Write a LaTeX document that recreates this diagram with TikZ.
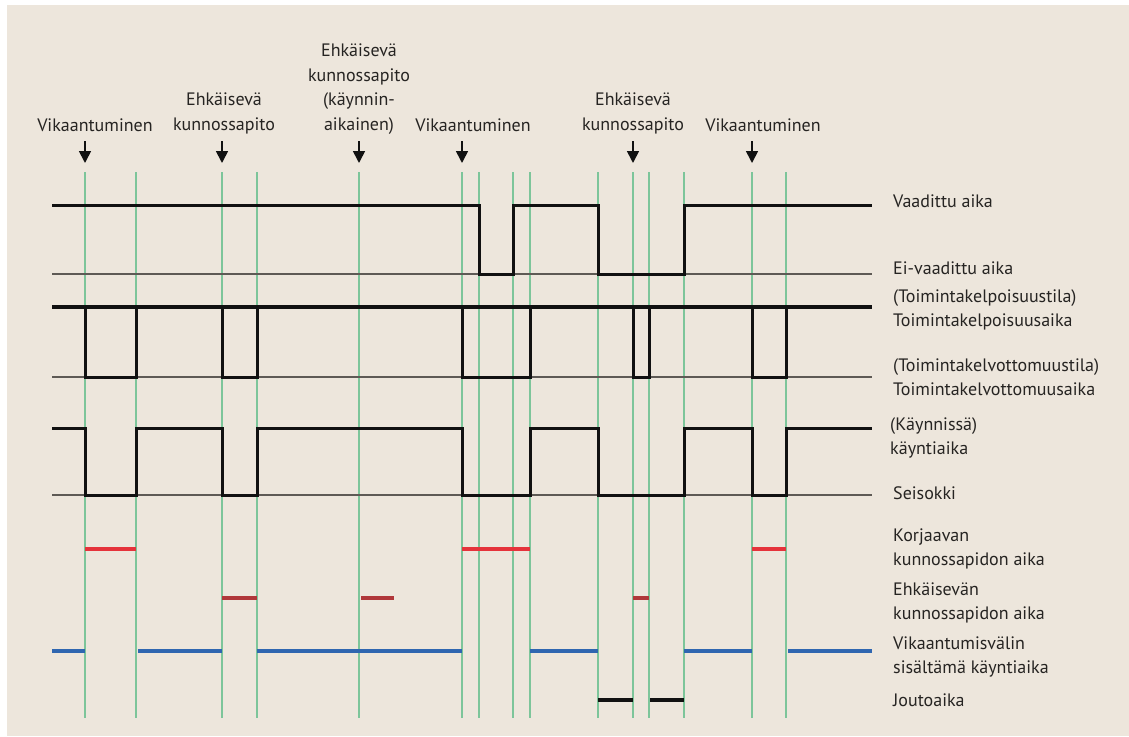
\documentclass[tikz,border=0pt]{standalone}
\usepackage{fontspec}
\setmainfont{PT Sans}
\usetikzlibrary{arrows.meta}
\definecolor{paper}{HTML}{EDE6DC}
\definecolor{gridgreen}{HTML}{7DC59A}
\definecolor{ink}{HTML}{111111}
\definecolor{baseln}{HTML}{5E5A55}
\definecolor{repair}{HTML}{E5333B}
\definecolor{prevent}{HTML}{B0373A}
\definecolor{uptime}{HTML}{2F66B0}
\definecolor{txt}{HTML}{262422}
\tikzset{
  lbl/.style={font=\fontsize{18}{24.5}\selectfont, text=txt, inner sep=0pt, align=center},
  rlbl/.style={font=\fontsize{18}{24.5}\selectfont, text=txt, inner sep=0pt, align=left, anchor=west},
  grid/.style={gridgreen, line width=1.9pt},
  wave/.style={ink, line width=3pt, line join=miter},
  topline/.style={ink, line width=4.4pt},
  basel/.style={baseln, line width=1.5pt},
  bar/.style={line width=4pt},
  evt/.style={ink, line width=1.7pt, -{Triangle[width=12pt,length=12pt]}}
}
\begin{document}
\begin{tikzpicture}[x=1pt,y=-1pt]
% page and panel
\fill[white] (0,0) rectangle (1129,736);
\fill[paper] (7,5) rectangle (1129,736);
\useasboundingbox (0,0) rectangle (1129,736);

% vertical time markers
\foreach \x in {85,136,222,257,359,462,479,513,530,598,633,649,684,752,786}
  \draw[grid] (\x,172) -- (\x,718);

% base lines of the state rows
\draw[basel] (52,274) -- (872,274);
\draw[basel] (52,377) -- (872,377);
\draw[basel] (52,495) -- (872,495);

% required time
\draw[wave] (52,205) -| (479,274) -| (513,205) -| (598,274) -| (684,205) -- (872,205);

% up state / down state
\draw[topline] (52,307) -- (872,307);
\foreach \a/\b in {85/136,222/257,462/530,633/649,752/786}
  \draw[wave] (\a,307) |- (\b,377) -- (\b,307);

% operating / not operating
\draw[wave] (52,428) -| (85,495) -| (136,428) -| (222,495) -| (257,428) -| (462,495)
  -| (530,428) -| (598,495) -| (684,428) -| (752,495) -| (786,428) -- (872,428);

% corrective maintenance time
\foreach \a/\b in {85/136,462/530,752/786}
  \draw[bar, repair] (\a,549) -- (\b,549);
% preventive maintenance time
\foreach \a/\b in {222/257,361/394,633/649}
  \draw[bar, prevent] (\a,598) -- (\b,598);
% operating time between failures
\foreach \a/\b in {52/85,138/222,257/462,530/598,684/752,788/872}
  \draw[bar, uptime] (\a,651) -- (\b,651);
% idle time
\foreach \a/\b in {598/633,650/684}
  \draw[bar, ink] (\a,700) -- (\b,700);

% event labels
\node[lbl] (f1) at (95,125) {Vikaantuminen};
\node[lbl] (p1) at (224,113.5) {Ehkäisevä\\kunnossapito};
\node[lbl] (p2) at (359,89) {Ehkäisevä\\kunnossapito\\(käynnin-\\aikainen)};
\node[lbl] (f2) at (473,125) {Vikaantuminen};
\node[lbl] (p3) at (633,113.5) {Ehkäisevä\\kunnossapito};
\node[lbl] (f3) at (763,125) {Vikaantuminen};

% event arrows
\foreach \n/\x in {a1/85,a2/222,a3/359,a4/462,a5/633,a6/752}{
  \coordinate (\n s) at (\x,141);
  \coordinate (\n e) at (\x,163);
  \draw[evt] (\n s) -- (\n e);
}

% row labels
\node[rlbl] (r1) at (893,201) {Vaadittu aika};
\node[rlbl] (r2) at (893,268) {Ei-vaadittu aika};
\node[rlbl] (r3) at (893,310) {(Toimintakelpoisuustila)\\Toimintakelpoisuusaika};
\node[rlbl] (r4) at (893,377) {(Toimintakelvottomuustila)\\Toimintakelvottomuusaika};
\node[rlbl] (r5) at (890,438) {(Käynnissä)\\käyntiaika};
\node[rlbl] (r6) at (893,493) {Seisokki};
\node[rlbl] (r7) at (893,549) {Korjaavan\\kunnossapidon aika};
\node[rlbl] (r8) at (893,603) {Ehkäisevän\\kunnossapidon aika};
\node[rlbl] (r9) at (893,657) {Vikaantumisvälin\\sisältämä käyntiaika};
\node[rlbl] (r10) at (893,700) {Joutoaika};
\end{tikzpicture}
\end{document}
